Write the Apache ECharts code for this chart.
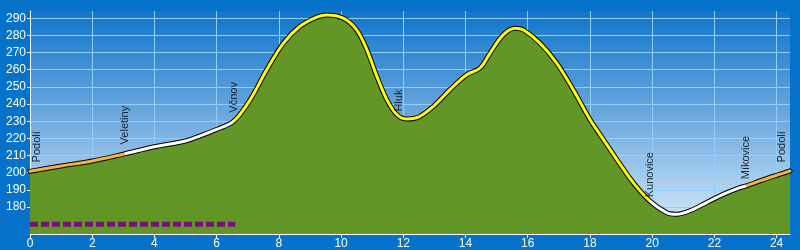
<!DOCTYPE html>
<html>
<head>
<meta charset="utf-8">
<script src="https://cdn.jsdelivr.net/npm/echarts@6/dist/echarts.min.js"></script>
<style>html,body{margin:0;padding:0;background:#0672c9;}#c{width:800px;height:250px;}</style>
</head>
<body>
<div id="c"></div>
<script>
// distance (km) and elevation (m) of the profile
const distances = [0, 1, 2, 3, 4, 5, 5.47, 6, 6.55, 7.08, 7.61, 8.15, 8.68, 9.22, 9.54, 10.07, 10.5, 10.83, 11.15, 11.47, 11.79, 12.1, 12.5, 12.97, 13.5, 14.04, 14.47, 14.79, 15.21, 15.59, 15.86, 16.39, 16.93, 17.46, 18.0, 18.32, 18.86, 19.39, 19.92, 20.46, 20.78, 21.21, 21.75, 22.28, 22.82, 23.03, 23.46, 24.0, 24.43];
const elevations = [200.8, 203.9, 206.8, 210.8, 215.1, 218.5, 221.5, 225.2, 230, 242.6, 260, 275.5, 285.3, 290.6, 291.9, 290, 283.2, 271.6, 256.1, 242.6, 233.9, 231.3, 232.5, 238.7, 248.4, 257.1, 261, 269.7, 280.3, 284.2, 283.2, 275.5, 263.9, 248.4, 231, 222.3, 207.8, 194.2, 183.6, 176.8, 175.8, 177.8, 182.6, 187.4, 191.3, 192.3, 195.2, 198.5, 201];
// place names along the route
const placeNames = ['Podolí', 'Veletiny', 'Včnov', 'Hluk', 'Kunovice', 'Míkovice', 'Podolí'];
const placeDist = [0.23, 3.05, 6.55, 11.85, 19.92, 23.0, 24.17];
const placeLabelElev = [206, 216.5, 235, 235.6, 185.7, 196.2, 206];
// colour segments of the route line (boundaries in km)
const segmentBreaks = [3.05, 6.55, 19.92, 23.03];
const segmentColors = ['#f2b43e', '#ffffff', '#ffff00', '#ffffff', '#f2b43e'];
// purple bar at the bottom
const barStart = 0, barEnd = 6.6, barLevel = 170;
// axes
const xTicks = [0, 2, 4, 6, 8, 10, 12, 14, 16, 18, 20, 22, 24];
const yTicks = [180, 190, 200, 210, 220, 230, 240, 250, 260, 270, 280, 290];

const profile = distances.map((d, i) => [d, elevations[i]]);
const places = placeNames.map((n, i) => ({ name: n, value: [placeDist[i], placeLabelElev[i]] }));
const pieces = segmentColors.map((c, i) => {
  const p = { color: c };
  if (i > 0) p.gte = segmentBreaks[i - 1];
  if (i < segmentBreaks.length) p.lt = segmentBreaks[i];
  return p;
});

const chart = echarts.init(document.getElementById('c'), null, { renderer: 'canvas' });
const font = '"Liberation Sans", Arial, sans-serif';
chart.setOption({
  backgroundColor: '#0672c9',
  animation: false,
  grid: {
    left: 30, right: 10, top: 11, bottom: 15,
    show: true, borderWidth: 0,
    backgroundColor: new echarts.graphic.LinearGradient(0, 0, 0, 1, [
      { offset: 0, color: '#1275cb' },
      { offset: 0.5, color: '#72abe0' },
      { offset: 1, color: '#dcecf9' }
    ])
  },
  xAxis: {
    type: 'value', min: 0, max: 24.43, interval: 2,
    axisLine: { show: true, lineStyle: { color: '#ffffff', width: 1 } },
    axisTick: { show: true, length: 4, lineStyle: { color: '#ffffff' }, customValues: xTicks },
    axisLabel: { color: '#ffffff', fontSize: 12, fontFamily: font, margin: 4, customValues: xTicks },
    splitLine: { show: true, lineStyle: { color: '#8fd0ff', width: 1 } }
  },
  yAxis: {
    type: 'value', min: 164.3, max: 294.2,
    axisLine: { show: true, lineStyle: { color: '#ffffff', width: 1 } },
    axisTick: { show: true, length: 3, lineStyle: { color: '#ffffff' }, customValues: yTicks },
    axisLabel: { color: '#ffffff', fontSize: 12, fontFamily: font, margin: 4, customValues: yTicks },
    splitLine: { show: true, lineStyle: { color: '#8fd0ff', width: 1 } }
  },
  visualMap: {
    show: false, type: 'piecewise', dimension: 0, seriesIndex: 2, pieces: pieces
  },
  series: [
    {
      type: 'line', data: profile, symbol: 'none', smooth: 0.35,
      lineStyle: { width: 0 },
      areaStyle: { color: '#629626', opacity: 1, origin: 'start' },
      z: 2
    },
    {
      type: 'line', data: profile, symbol: 'none', smooth: 0.35,
      lineStyle: { width: 5, color: '#000000', cap: 'round', join: 'round' },
      z: 3
    },
    {
      type: 'line', data: profile, symbol: 'none', smooth: 0.35,
      lineStyle: { width: 3, cap: 'round', join: 'round' },
      z: 4
    },
    {
      type: 'line', data: [[barStart, barLevel], [barEnd, barLevel]], symbol: 'none',
      lineStyle: { width: 5, color: '#7d0f7d', type: [8, 3], cap: 'butt' },
      z: 5
    },
    {
      type: 'scatter', data: places, symbolSize: 0,
      label: {
        show: true, formatter: p => p.name, rotate: 90, position: 'top', distance: 0,
        align: 'left', verticalAlign: 'middle',
        color: '#000000', fontSize: 11, fontFamily: font
      },
      z: 6
    }
  ]
});
</script>
</body>
</html>
